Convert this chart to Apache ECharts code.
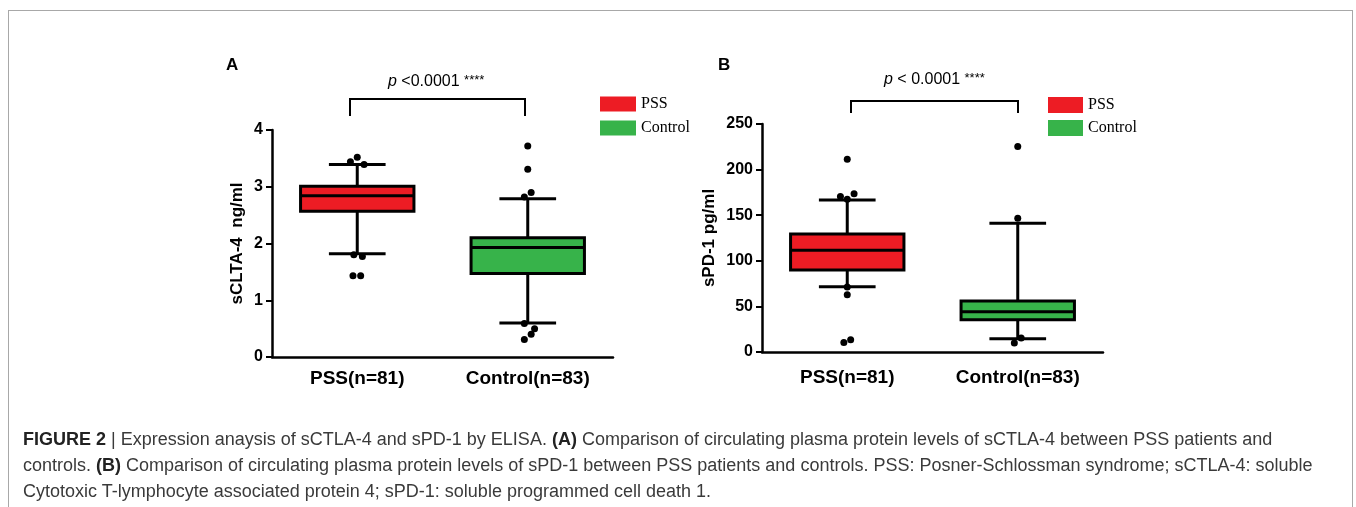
<!DOCTYPE html>
<html>
<head>
<meta charset="UTF-8">
<title>sCTLA-4 / sPD-1</title>
<script src="https://cdn.jsdelivr.net/npm/echarts@6/dist/echarts.min.js"></script>
<style>
  * { margin: 0; padding: 0; }
  body { background: #fff; width: 1356px; height: 507px; overflow: hidden; position: relative; }
  #frame { position: absolute; left: 8px; top: 10px; width: 1343px; height: 520px; border: 1px solid #a8a8a8; }
  #chart { position: absolute; left: 0; top: 0; width: 1356px; height: 507px; }
  #caption { position: absolute; left: 23px; top: 426px; width: 1320px; white-space: nowrap;
    font: 18px/26px "Liberation Sans", Arial, sans-serif; color: #3a3a3a; }
  #caption b { color: #222; }
</style>
</head>
<body>
<div id="frame"></div>
<div id="chart"></div>
<div id="caption"><b>FIGURE 2</b> | Expression anaysis of sCTLA-4 and sPD-1 by ELISA. <b>(A)</b> Comparison of circulating plasma protein levels of sCTLA-4 between PSS patients and<br>controls. <b>(B)</b> Comparison of circulating plasma protein levels of sPD-1 between PSS patients and controls. PSS: Posner-Schlossman syndrome; sCTLA-4: soluble<br>Cytotoxic T-lymphocyte associated protein 4; sPD-1: soluble programmed cell death 1.</div>
<script>
// categories
var groups = ['PSS(n=81)', 'Control(n=83)'];
var legendNames = ['PSS', 'Control'];

// box stats: [min whisker, Q1, median, Q3, max whisker]
var boxA_PSS = [1.82, 2.57, 2.84, 3.01, 3.39];
var boxA_Ctrl = [0.60, 1.47, 1.93, 2.10, 2.79];
var boxB_PSS = [71.5, 90, 111.5, 129.5, 166.8];
var boxB_Ctrl = [14.6, 35.4, 44, 55.8, 141.3];

// outlier values and their small horizontal spread (category units)
var outA_PSS = [3.52, 3.44, 3.39, 1.80, 1.77, 1.43, 1.43];
var jitA_PSS = [0, -0.04, 0.04, -0.02, 0.03, -0.025, 0.02];
var outA_Ctrl = [3.72, 3.31, 2.90, 2.82, 0.59, 0.50, 0.40, 0.31];
var jitA_Ctrl = [0, 0, 0.02, -0.02, -0.02, 0.04, 0.02, -0.02];
var outB_PSS = [211.4, 173.4, 170.4, 167.6, 71.2, 62.8, 13.5, 10.5];
var jitB_PSS = [0, 0.04, -0.04, 0, 0, 0, 0.02, -0.02];
var outB_Ctrl = [225.2, 146.7, 15.3, 9.8];
var jitB_Ctrl = [0, 0, 0.02, -0.02];

// axis ticks
var yTicksA = [0, 1, 2, 3, 4];
var yTicksB = [0, 50, 100, 150, 200, 250];

var RED = '#ed1c24';
var GREEN = '#37b34a';
var FONT = '"Liberation Sans", Arial, sans-serif';

function renderBox(params, api) {
  var cat = api.value(0);
  var lo = api.coord([cat, api.value(1)]);
  var q1 = api.coord([cat, api.value(2)]);
  var md = api.coord([cat, api.value(3)]);
  var q3 = api.coord([cat, api.value(4)]);
  var hi = api.coord([cat, api.value(5)]);
  var bw = api.size([1, 0])[0] * 0.665;
  var cw = bw / 2;
  var x = lo[0];
  var ls = { stroke: '#000', lineWidth: 3 };
  return {
    type: 'group',
    children: [
      { type: 'line', shape: { x1: x, y1: hi[1], x2: x, y2: q3[1] }, style: ls },
      { type: 'line', shape: { x1: x, y1: q1[1], x2: x, y2: lo[1] }, style: ls },
      { type: 'line', shape: { x1: x - cw / 2, y1: hi[1], x2: x + cw / 2, y2: hi[1] }, style: ls },
      { type: 'line', shape: { x1: x - cw / 2, y1: lo[1], x2: x + cw / 2, y2: lo[1] }, style: ls },
      { type: 'rect', shape: { x: x - bw / 2, y: q3[1], width: bw, height: q1[1] - q3[1] },
        style: { fill: api.visual('color'), stroke: '#000', lineWidth: 3 } },
      { type: 'line', shape: { x1: x - bw / 2, y1: md[1], x2: x + bw / 2, y2: md[1] },
        style: { stroke: '#000', lineWidth: 3 } }
    ]
  };
}

function boxRow(idx, stats) {
  return [[idx].concat(stats)];
}

function pts(vals, jit, idx) {
  return vals.map(function (v, i) { return [idx + jit[i], v]; });
}

function yAxisCfg(gi, ticks, name, gap) {
  return {
    gridIndex: gi, type: 'value',
    min: ticks[0], max: ticks[ticks.length - 1], interval: ticks[1] - ticks[0],
    name: name, nameLocation: 'middle', nameGap: gap,
    nameTextStyle: { fontFamily: FONT, fontWeight: 'bold', fontSize: 17, color: '#000' },
    axisLine: { show: true, onZero: false, lineStyle: { color: '#000', width: 2.5 } },
    axisTick: { show: true, length: 6, lineStyle: { color: '#000', width: 2 } },
    axisLabel: { fontFamily: FONT, fontWeight: 'bold', fontSize: 16, color: '#000', margin: 9 },
    splitLine: { show: false }
  };
}

function xCatCfg(gi, labelGap) {
  return {
    gridIndex: gi, type: 'category', data: groups,
    axisLine: { onZero: false, lineStyle: { color: '#000', width: 2.5 } },
    axisTick: { alignWithLabel: true, length: 5, lineStyle: { color: '#000', width: 2 } },
    axisLabel: { fontFamily: FONT, fontWeight: 'bold', fontSize: 19, color: '#000', margin: labelGap }
  };
}

function xValCfg(gi) {
  return { gridIndex: gi, type: 'value', min: -0.5, max: 1.5, show: false };
}

var legendText = { fontFamily: '"Liberation Serif", "Times New Roman", serif', fontSize: 16, color: '#000' };

var option = {
  animation: false,
  grid: [
    { left: 272, top: 130, width: 341, height: 227 },
    { left: 762, top: 124, width: 341, height: 228 }
  ],
  legend: [
    { data: legendNames, left: 595, top: 91, orient: 'vertical', itemWidth: 36, itemHeight: 15,
      itemGap: 8, textStyle: legendText, icon: 'rect' },
    { data: [{ name: legendNames[0] + ' ' }, { name: legendNames[1] + ' ' }], left: 1043, top: 92,
      orient: 'vertical', itemWidth: 35, itemHeight: 16, itemGap: 7, textStyle: legendText, icon: 'rect' }
  ],
  xAxis: [xCatCfg(0, 12), xValCfg(0), xCatCfg(1, 16), xValCfg(1)],
  yAxis: [yAxisCfg(0, yTicksA, 'sCLTA-4  ng/ml', 26), yAxisCfg(1, yTicksB, 'sPD-1 pg/ml', 44)],
  series: [
    { name: legendNames[0], type: 'custom', xAxisIndex: 0, yAxisIndex: 0, itemStyle: { color: RED },
      renderItem: renderBox, data: boxRow(0, boxA_PSS) },
    { name: legendNames[1], type: 'custom', xAxisIndex: 0, yAxisIndex: 0, itemStyle: { color: GREEN },
      renderItem: renderBox, data: boxRow(1, boxA_Ctrl) },
    { name: legendNames[0] + ' ', type: 'custom', xAxisIndex: 2, yAxisIndex: 1, itemStyle: { color: RED },
      renderItem: renderBox, data: boxRow(0, boxB_PSS) },
    { name: legendNames[1] + ' ', type: 'custom', xAxisIndex: 2, yAxisIndex: 1, itemStyle: { color: GREEN },
      renderItem: renderBox, data: boxRow(1, boxB_Ctrl) },
    { type: 'scatter', xAxisIndex: 1, yAxisIndex: 0, symbolSize: 7, itemStyle: { color: '#000', opacity: 1 },
      data: pts(outA_PSS, jitA_PSS, 0).concat(pts(outA_Ctrl, jitA_Ctrl, 1)) },
    { type: 'scatter', xAxisIndex: 3, yAxisIndex: 1, symbolSize: 7, itemStyle: { color: '#000', opacity: 1 },
      data: pts(outB_PSS, jitB_PSS, 0).concat(pts(outB_Ctrl, jitB_Ctrl, 1)) }
  ],
  graphic: [
    { type: 'text', left: 226, top: 57, style: { text: 'A', font: 'bold 17px ' + FONT, fill: '#000' } },
    { type: 'text', left: 718, top: 57, style: { text: 'B', font: 'bold 17px ' + FONT, fill: '#000' } },
    { type: 'polyline', shape: { points: [[350, 116], [350, 99], [525, 99], [525, 116]] },
      style: { stroke: '#000', lineWidth: 2, fill: null } },
    { type: 'polyline', shape: { points: [[851, 113], [851, 101], [1018, 101], [1018, 113]] },
      style: { stroke: '#000', lineWidth: 2, fill: null } },
    { type: 'text', left: 388, top: 74, style: {
        text: '{i|p} <0.0001 {s|****}', font: '16px ' + FONT, fill: '#000',
        rich: { i: { fontStyle: 'italic', fontSize: 16, fontFamily: FONT },
                s: { fontSize: 13, fontFamily: FONT, verticalAlign: 'top' } } } },
    { type: 'text', left: 884, top: 72, style: {
        text: '{i|p} < 0.0001 {s|****}', font: '16px ' + FONT, fill: '#000',
        rich: { i: { fontStyle: 'italic', fontSize: 16, fontFamily: FONT },
                s: { fontSize: 13, fontFamily: FONT, verticalAlign: 'top' } } } }
  ]
};

var chart = echarts.init(document.getElementById('chart'));
chart.setOption(option);
</script>
</body>
</html>
